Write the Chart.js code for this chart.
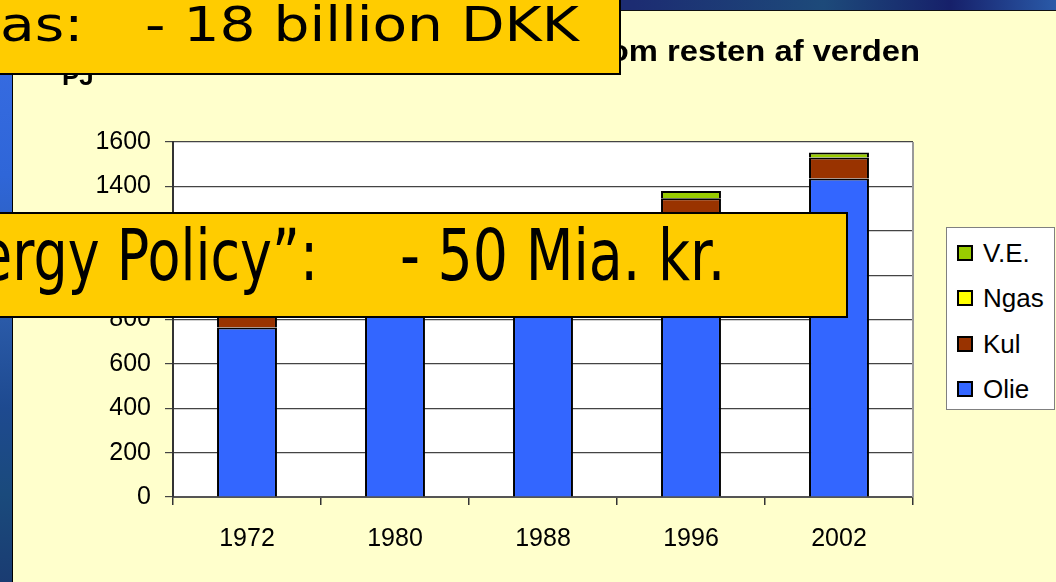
<!DOCTYPE html>
<html>
<head>
<meta charset="utf-8">
<script src="https://cdn.jsdelivr.net/npm/chart.js@4.4.1/dist/chart.umd.min.js"></script>
<style>
  html, body { margin: 0; padding: 0; }
  body {
    width: 1056px; height: 582px; overflow: hidden; position: relative;
    background: #FFFFCC;
    font-family: "Liberation Sans", Arial, sans-serif;
  }
  #chart { position: absolute; left: 0; top: 0; z-index: 1; }
  .strip {
    position: absolute; left: 0; top: 0; width: 12px; height: 582px; z-index: 2;
    border-right: 1px solid #000;
    background: linear-gradient(180deg, #3a6ee6 0%, #2f66d8 30%, #2a5aa8 55%, #1e4a90 70%, #1a4a7c 85%, #1a3c72 100%);
  }
  .band {
    position: absolute; left: 0; top: 0; width: 1056px; height: 10px; z-index: 2;
    border-bottom: 1px solid #111;
    background: linear-gradient(90deg, #1a2a70 0%, #1c2c72 60%, #1d4a7a 78%, #16206a 90%, #2a5aa8 100%);
  }
  #title {
    position: absolute; right: 136px; top: 37px; z-index: 3;
    font-weight: bold; font-size: 29px; line-height: 29px; white-space: nowrap;
    transform: scaleX(1.13); transform-origin: right top;
  }
  #unit {
    position: absolute; left: 62px; top: 63px; z-index: 3;
    font-weight: bold; font-size: 26px; line-height: 26px;
  }
  #legend {
    position: absolute; left: 946px; top: 227px; width: 109px; height: 183px; z-index: 3;
    box-sizing: border-box; background: #fff; border: 1px solid #808080;
  }
  .item { position: absolute; left: 10px; height: 26px; }
  .item .sw {
    position: absolute; left: 0; top: 5px; width: 16px; height: 16px;
    box-sizing: border-box; border: 2px solid #000;
  }
  .item .lb {
    position: absolute; left: 26px; top: 0; font-size: 26px; line-height: 26px; white-space: nowrap;
  }
  .box {
    position: absolute; z-index: 5; box-sizing: border-box;
    background: #FFCC00; border: 2px solid #000;
  }
  .txt {
    position: absolute; z-index: 6; white-space: pre;
    font-family: "DejaVu Sans", Tahoma, sans-serif; color: #000;
    transform-origin: left top;
  }
</style>
</head>
<body>
<div class="band"></div>
<div class="strip"></div>
<canvas id="chart" width="1056" height="582"></canvas>
<div id="title">Energiforbrug hvis vi gjorde som resten af verden</div>
<div id="unit">PJ</div>
<div id="legend"></div>

<div class="box" style="left:-3px; top:-3px; width:624px; height:78px;"></div>
<div class="txt" style="left:0px; top:0px; font-size:48px; line-height:48px; transform:scaleX(1.18);">as:</div>
<div class="txt" style="left:145px; top:0px; font-size:48px; line-height:48px; transform:scaleX(1.18);">- 18 billion DKK</div>

<div class="box" style="left:-3px; top:212px; width:851px; height:106px;"></div>
<div class="txt" style="left:-21px; top:220px; font-size:71px; line-height:71px; transform:scaleX(0.76);">ergy Policy”:</div>
<div class="txt" style="left:400px; top:220px; font-size:71px; line-height:71px; transform:scaleX(0.78);">- 50 Mia. kr.</div>

<script>
// Data (PJ)
const years = ['1972', '1980', '1988', '1996', '2002'];
const olie = [764, 900, 880, 1180, 1436];
const kul = [60, 250, 300, 167, 94];
const ngas = [0, 0, 0, 0, 0];
const ve = [5, 10, 15, 32, 23];
const seriesNames = ['Olie', 'Kul', 'Ngas', 'V.E.'];
const seriesColors = ['#3366FF', '#993300', '#FFFF00', '#99CC00'];
const yMin = 0, yMax = 1600, yStep = 200;

const seriesData = [olie, kul, ngas, ve];

// white plot area + grey frame on the right
const plotFrame = {
  id: 'plotFrame',
  beforeDraw(chart) {
    const { ctx, chartArea } = chart;
    ctx.save();
    ctx.fillStyle = '#fff';
    ctx.fillRect(chartArea.left, chartArea.top, chartArea.right - chartArea.left, chartArea.bottom - chartArea.top);
    ctx.restore();
  },
  afterDraw(chart) {
    const { ctx, chartArea } = chart;
    ctx.save();
    ctx.strokeStyle = '#999';
    ctx.lineWidth = 2;
    ctx.beginPath();
    ctx.moveTo(chartArea.right, chartArea.top);
    ctx.lineTo(chartArea.right, chartArea.bottom);
    ctx.stroke();
    ctx.restore();
  }
};

const ctx = document.getElementById('chart').getContext('2d');
new Chart(ctx, {
  type: 'bar',
  data: {
    labels: years,
    datasets: seriesNames.map((name, i) => ({
      label: name,
      data: seriesData[i],
      backgroundColor: seriesColors[i],
      borderColor: '#000',
      borderWidth: 2,
      categoryPercentage: 1,
      barPercentage: 0.405
    }))
  },
  options: {
    responsive: false,
    animation: false,
    layout: { padding: { top: 142, right: 143, bottom: 0, left: 0 } },
    plugins: {
      legend: { display: false },
      tooltip: { enabled: false }
    },
    scales: {
      x: {
        stacked: true,
        afterFit: (scale) => { scale.height = 85; },
        grid: { drawOnChartArea: false, tickLength: 8, color: '#333', lineWidth: 1.5 },
        border: { color: '#555', width: 2 },
        ticks: { color: '#000', padding: 19, font: { family: 'Liberation Sans', size: 25 } }
      },
      y: {
        stacked: true,
        min: yMin,
        max: yMax,
        afterFit: (scale) => { scale.width = 173; },
        grid: { color: '#444', lineWidth: 1.2, tickLength: 8 },
        border: { color: '#333', width: 2 },
        ticks: {
          stepSize: yStep, color: '#000', padding: 14,
          font: { family: 'Liberation Sans', size: 25 },
          callback: (v) => String(v)
        }
      }
    }
  },
  plugins: [plotFrame]
});

// legend, top entry first like the original
const legendEl = document.getElementById('legend');
const rowTops = [12, 57, 103, 148];
seriesNames.slice().reverse().forEach((name, k) => {
  const i = seriesNames.length - 1 - k;
  const row = document.createElement('div');
  row.className = 'item';
  row.style.top = rowTops[k] + 'px';
  row.innerHTML = '<span class="sw" style="background:' + seriesColors[i] + '"></span><span class="lb">' + name + '</span>';
  legendEl.appendChild(row);
});
</script>
</body>
</html>
